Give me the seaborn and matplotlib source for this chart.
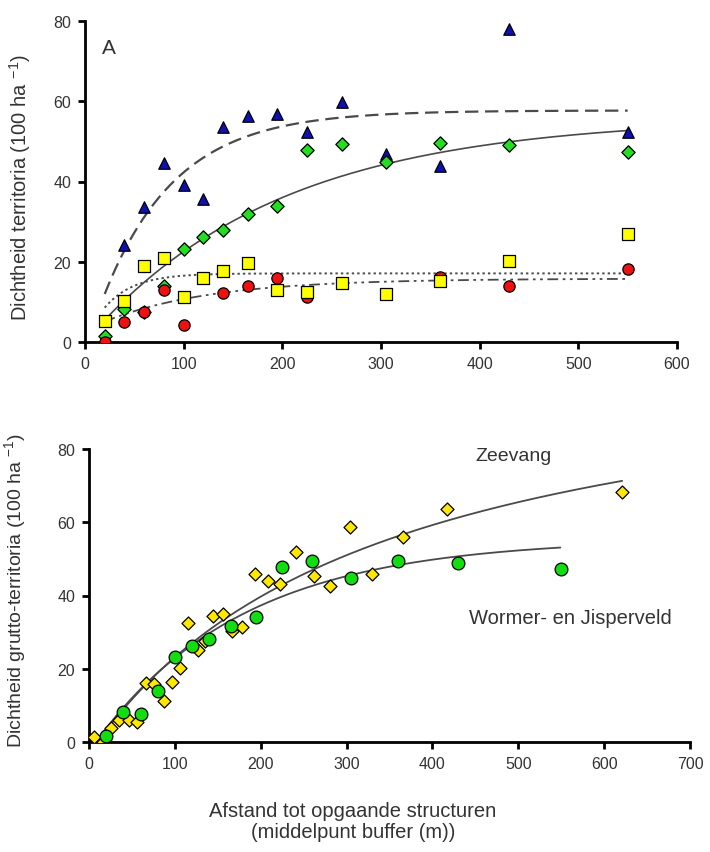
import numpy as np
import pandas as pd
import matplotlib
matplotlib.use("Agg")
import matplotlib.pyplot as plt
import seaborn as sns

# ---- panel A: territory density per buffer, four groups ----
buffer_mid = [20, 40, 60, 80, 100, 120, 140, 165, 195, 225, 260, 305, 360, 430, 550]
dens_triangle = [1.0, 24.2, 33.6, 44.6, 39.2, 35.6, 53.7, 56.3, 56.9, 52.4, 59.9, 46.9, 43.8, 78.1, 52.4]
dens_diamond = [1.6, 8.2, 7.6, 14.0, 23.1, 26.1, 28.0, 31.8, 34.0, 47.8, 49.3, 44.9, 49.5, 49.0, 47.3]
dens_square = [5.3, 10.3, 19.0, 20.9, 11.1, 15.9, 17.8, 19.7, 13.0, 12.5, 14.7, 12.0, 15.3, 20.1, 26.9]
dens_circle = [0.0, 5.1, 7.4, 13.0, 4.2, 15.9, 12.1, 14.0, 15.9, 11.3, 14.7, 12.0, 16.1, 13.9, 18.2]

# fitted saturation curves y = a * (1 - exp(-b * (x - c))), drawn from x0 to x1
fit_triangle = (57.7, 0.01359, 2.9, 20, 550)
fit_diamond = (56.0, 0.00515, 0.0, 20, 550)
fit_square = (17.1, 0.0339, -0.5, 20, 550)
fit_circle = (15.8, 0.00928, -21.9, 20, 550)

# ---- panel B: black-tailed godwit territories in two areas ----
zeevang_x = [6, 16, 26, 35, 47, 56, 66, 76, 87, 97, 106, 115, 127, 135, 145, 156, 166,
             178, 193, 209, 223, 241, 262, 281, 304, 330, 366, 417, 621]
zeevang_y = [1.3, 0.1, 3.7, 6.0, 6.0, 5.4, 16.0, 15.8, 11.1, 16.5, 20.1, 32.5, 25.1, 27.5,
             34.4, 34.9, 30.4, 31.5, 46.0, 43.9, 43.1, 51.8, 45.2, 42.6, 58.7, 46.0, 55.9,
             63.7, 68.3]
wormer_x = buffer_mid
wormer_y = dens_diamond

# Zeevang: hyperbolic fit y = a * (x - c) / (b + x - c)
fit_zeevang = (111.3, 342.8, 10.0, 10, 621)
# Wormer- en Jisperveld: saturation fit y = a * (1 - exp(-b * (x - c)))
fit_wormer = (55.5, 0.0058, 8.0, 10, 549)

TEXT = "#333333"
LINE = "#4a4a4a"

sns.set_theme(style="ticks")
plt.rcParams["font.family"] = ["Liberation Sans", "DejaVu Sans"]
plt.rcParams["mathtext.fontset"] = "custom"
plt.rcParams["mathtext.rm"] = "Liberation Sans"
plt.rcParams["mathtext.it"] = "Liberation Sans"

fig = plt.figure(figsize=(7.10, 8.53), dpi=100)
W, H = 710, 853
ax1 = fig.add_axes([85 / W, 1 - 343 / H, (677 - 85) / W, (343 - 22) / H])
ax2 = fig.add_axes([89 / W, 1 - 743 / H, (690 - 89) / W, (743 - 450) / H])


def sat(params):
    a, b, c, x0, x1 = params
    x = np.linspace(x0, x1, 300)
    return pd.DataFrame({"x": x, "y": a * (1 - np.exp(-b * (x - c)))})


def hyp(params):
    a, b, c, x0, x1 = params
    x = np.linspace(x0, x1, 300)
    return pd.DataFrame({"x": x, "y": a * (x - c) / (b + x - c)})


# panel A curves
curves_a = [
    (fit_triangle, (0, (6, 3)), 1.6),
    (fit_diamond, "-", 1.2),
    (fit_square, (0, (1.2, 1.6)), 1.4),
    (fit_circle, (0, (6, 2.5, 1.5, 2.5, 1.5, 2.5)), 1.3),
]
for params, ls, lw in curves_a:
    sns.lineplot(data=sat(params), x="x", y="y", ax=ax1, color=LINE, lw=lw, linestyle=ls)

# panel A markers
dfa = pd.DataFrame({"x": buffer_mid, "tri": dens_triangle, "dia": dens_diamond,
                    "sq": dens_square, "cir": dens_circle})
mk = dict(edgecolor="black", linewidth=0.9, ax=ax1, legend=False, zorder=3)
sns.scatterplot(data=dfa, x="x", y="tri", marker="^", s=68, color="#1010b0", **mk)
sns.scatterplot(data=dfa, x="x", y="dia", marker="D", s=46, color="#22dd22", **mk)
sns.scatterplot(data=dfa, x="x", y="cir", marker="o", s=66, color="#ee1111", **mk)
sns.scatterplot(data=dfa, x="x", y="sq", marker="s", s=70, color="#ffff00", **mk)

ax1.set_xlim(0, 600)
ax1.set_ylim(0, 80)
ax1.set_xticks(range(0, 601, 100))
ax1.set_yticks(range(0, 81, 20))
ax1.set_xlabel("")
ax1.set_ylabel(r"Dichtheid territoria (100 ha $^{-1}$)", fontsize=14.5, color=TEXT)
ax1.yaxis.set_label_coords(-0.088, 0.483)
ax1.text((109 - 85) / 592 * 600, (343 - 49) / 321 * 80, "A",
         fontsize=15, color=TEXT, ha="center", va="center")

# panel B curves
sns.lineplot(data=hyp(fit_zeevang), x="x", y="y", ax=ax2, color=LINE, lw=1.3)
sns.lineplot(data=sat(fit_wormer), x="x", y="y", ax=ax2, color=LINE, lw=1.3)

dfz = pd.DataFrame({"x": zeevang_x, "y": zeevang_y})
dfw = pd.DataFrame({"x": wormer_x, "y": wormer_y})
mk2 = dict(edgecolor="black", linewidth=0.9, ax=ax2, legend=False, zorder=3)
sns.scatterplot(data=dfz, x="x", y="y", marker="D", s=44, color="#ffe800", **mk2)
sns.scatterplot(data=dfw, x="x", y="y", marker="o", s=84, color="#11dd11", **mk2)

ax2.set_xlim(0, 700)
ax2.set_ylim(0, 80)
ax2.set_xticks(range(0, 701, 100))
ax2.set_yticks(range(0, 81, 20))
ax2.set_xlabel("Afstand tot opgaande structuren\n(middelpunt buffer (m))",
               fontsize=14.5, color=TEXT, linespacing=1.15)
ax2.xaxis.set_label_coords(0.439, -0.2)
ax2.set_ylabel(r"Dichtheid grutto-territoria (100 ha $^{-1}$)", fontsize=14, color=TEXT)
ax2.yaxis.set_label_coords(-0.102, 0.522)
ax2.text(x=(513 - 89) / 601 * 700, y=(743 - 457) / 293 * 80, s="Zeevang",
         fontsize=14, color=TEXT, ha="center", va="center")
ax2.text(x=(570 - 89) / 601 * 700, y=(743 - 619) / 293 * 80, s="Wormer- en Jisperveld",
         fontsize=14.5, color=TEXT, ha="center", va="center")

for ax in (ax1, ax2):
    sns.despine(ax=ax)
    for side in ("left", "bottom"):
        ax.spines[side].set_linewidth(2.0)
        ax.spines[side].set_color("black")
    ax.tick_params(direction="out", length=5, width=2.0, color="black",
                   labelsize=11.5, labelcolor=TEXT, pad=5)
    ax.set_facecolor("white")

fig.savefig("out.png", dpi=100, facecolor="white")
